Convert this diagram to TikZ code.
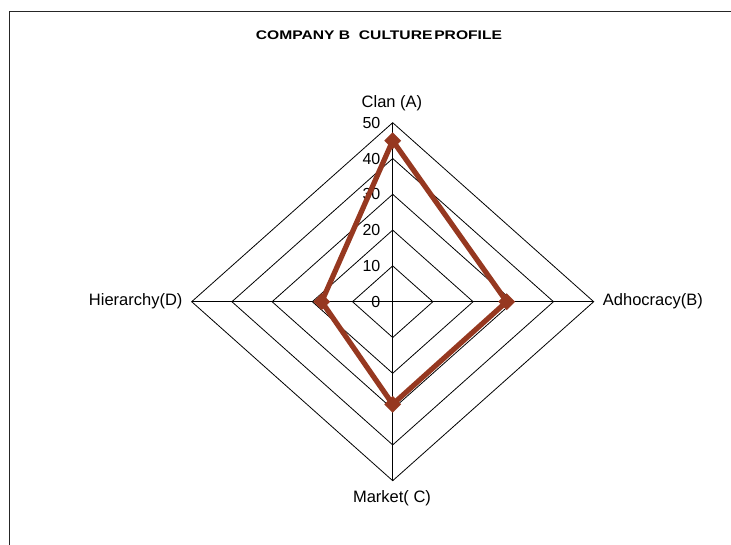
\documentclass[tikz,border=0pt]{standalone}
\usepackage{fontspec}
\usepackage{graphicx}
\setmainfont{Liberation Sans}
\usetikzlibrary{shapes.geometric}
\definecolor{series}{RGB}{150,56,32}
\begin{document}
\begin{tikzpicture}[x=1pt,y=-1pt,
  grid/.style={line width=0.8pt, black},
  axislabel/.style={font=\fontsize{16.5}{19}\selectfont, inner sep=0pt},
  ticklabel/.style={font=\fontsize{16}{19}\selectfont, anchor=east, inner sep=0pt},
  marker/.style={diamond, fill=series, minimum size=17pt, inner sep=0pt},
  series line/.style={draw=series, line width=5.2pt, line join=miter}]
\useasboundingbox (0,0) rectangle (731,545);
% chart area frame
\draw[line width=1.5pt, black!85] (9.5,545) -- (9.5,11.5) -- (731,11.5);
\def\cx{392.7}
\def\cy{301.7}
% rings at 10, 20, 30, 40, 50
\foreach \k in {1,...,5} {
  \draw[grid] (\cx,\cy-35.8*\k) -- (\cx+40.2*\k,\cy) -- (\cx,\cy+35.8*\k) -- (\cx-40.2*\k,\cy) -- cycle;
}
% axes
\draw[grid] (\cx,\cy-179) -- (\cx,\cy+179);
\draw[grid] (\cx-201,\cy) -- (\cx+201,\cy);
% scale labels
\foreach \v [count=\i from 0] in {0,10,20,30,40,50} {
  \node[ticklabel] (t\v) at (380.5,\cy-35.8*\i) {\v};
}
% axis titles
\node[axislabel] (clan) at (392,103) {Clan (A)};
\node[axislabel, anchor=west] (adho) at (602.7,301) {Adhocracy(B)};
\node[axislabel] (market) at (392,498) {Market( C)};
\node[axislabel, anchor=east] (hier) at (182.7,301) {Hierarchy(D)};
% chart title
\node[inner sep=0pt] (title) at (379,35) {\bfseries\fontsize{12.5}{14}\selectfont\scalebox{1.25}[1]{COMPANY B\ \ CULTURE\hspace{0.12em}PROFILE}};
% data series
\coordinate (A) at (392.7,140.7);
\coordinate (B) at (506.7,301.7);
\coordinate (C) at (392.7,404.3);
\coordinate (D) at (321.7,301.7);
\draw[series line] (A) -- (B) -- (C) -- (D) -- cycle;
\foreach \p in {A,B,C,D} {
  \node[marker] (m\p) at (\p) {};
}
\end{tikzpicture}
\end{document}
